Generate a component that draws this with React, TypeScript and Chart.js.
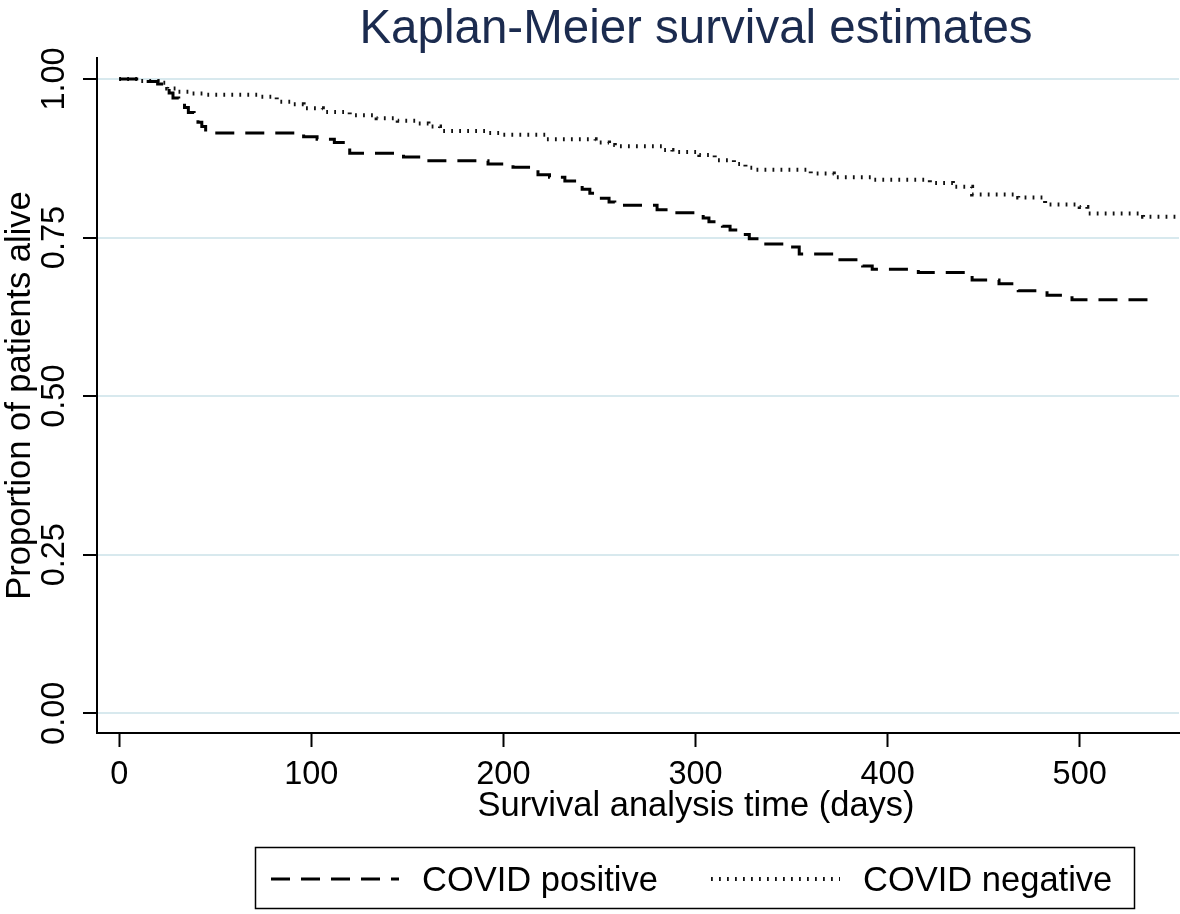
import React, { useEffect, useRef } from 'react';
import { Chart, registerables } from 'chart.js';

Chart.register(...registerables);

// ---------- data ----------
const TITLE = 'Kaplan-Meier survival estimates';
const X_TITLE = 'Survival analysis time (days)';
const Y_TITLE = 'Proportion of patients alive';
const SERIES_LABELS = ['COVID positive', 'COVID negative'];

const X_TICKS = [0, 100, 200, 300, 400, 500];
const Y_TICKS = [0, 0.25, 0.5, 0.75, 1];
const Y_TICK_LABELS = ['0.00', '0.25', '0.50', '0.75', '1.00'];

const POS_DAYS = [0, 11, 20, 23, 26, 28, 31, 34, 36, 39, 41, 43, 45, 96, 103, 112, 120, 148, 160, 192, 205, 218, 224, 232, 241, 245, 251, 255, 258, 280, 287, 304, 307, 314, 318, 324, 328, 332, 348, 354, 374, 387, 392, 416, 444, 458, 468, 483, 496, 537, 538];
const POS_SURV = [1, 0.996, 0.992, 0.985, 0.978, 0.970, 0.962, 0.955, 0.947, 0.940, 0.932, 0.925, 0.915, 0.909, 0.905, 0.900, 0.883, 0.877, 0.871, 0.866, 0.861, 0.849, 0.845, 0.839, 0.826, 0.820, 0.812, 0.806, 0.801, 0.794, 0.789, 0.781, 0.775, 0.768, 0.762, 0.755, 0.748, 0.740, 0.735, 0.724, 0.715, 0.705, 0.700, 0.695, 0.683, 0.677, 0.666, 0.659, 0.652, 0.646, 0.646];

const NEG_DAYS = [0, 11, 20, 25, 30, 37, 45, 72, 82, 90, 96, 106, 120, 134, 145, 155, 161, 167, 191, 198, 222, 248, 255, 258, 283, 288, 302, 310, 320, 326, 330, 360, 372, 392, 422, 434, 444, 468, 482, 500, 504, 533, 551];
const NEG_SURV = [1, 0.997, 0.994, 0.985, 0.980, 0.977, 0.975, 0.972, 0.964, 0.960, 0.954, 0.948, 0.943, 0.938, 0.934, 0.930, 0.925, 0.918, 0.915, 0.912, 0.905, 0.900, 0.896, 0.894, 0.888, 0.885, 0.880, 0.872, 0.866, 0.860, 0.857, 0.851, 0.845, 0.841, 0.836, 0.830, 0.818, 0.813, 0.802, 0.798, 0.788, 0.783, 0.783];

// ---------- style ----------
const FONT = '"Liberation Sans", Arial, sans-serif';
const TITLE_COLOR = '#1b2b4f';
const GRID_COLOR = '#d8e9ee';
const X_MIN = -11.56;
const X_MAX = 551.7;
const Y_MIN = -0.0311;
const Y_MAX = 1.0331;
const POS_DASH = [19, 11];
const NEG_DASH = [1.8, 6.2];

const toPoints = (xs: number[], ys: number[]) => xs.map((x, i) => ({ x, y: ys[i] }));

const overlayPlugin = {
  id: 'kmOverlay',
  afterDraw(chart: any) {
    const ctx = chart.ctx as CanvasRenderingContext2D;
    ctx.save();
    // chart title
    ctx.fillStyle = TITLE_COLOR;
    ctx.font = `47.5px ${FONT}`;
    ctx.textAlign = 'center';
    ctx.textBaseline = 'alphabetic';
    ctx.fillText(TITLE, 696, 43);
    // x axis title
    ctx.fillStyle = '#000';
    ctx.font = `34.5px ${FONT}`;
    ctx.fillText(X_TITLE, 696, 816);
    // legend
    ctx.lineWidth = 1.5;
    ctx.strokeStyle = '#000';
    ctx.setLineDash([]);
    ctx.strokeRect(255.5, 847.5, 879, 61);
    const ds = chart.data.datasets;
    const items = [
      { x0: 271, x1: 399, tx: 422 },
      { x0: 711, x1: 840, tx: 863 },
    ];
    items.forEach((it, i) => {
      const d = ds[i];
      ctx.save();
      ctx.strokeStyle = d.borderColor;
      ctx.lineWidth = d.borderWidth;
      ctx.setLineDash(d.borderDash);
      ctx.beginPath();
      ctx.moveTo(it.x0, 879);
      ctx.lineTo(it.x1, 879);
      ctx.stroke();
      ctx.restore();
      ctx.fillStyle = '#000';
      ctx.textAlign = 'left';
      ctx.font = `34.5px ${FONT}`;
      ctx.fillText(d.label, it.tx, 891);
    });
    ctx.restore();
  },
};

export default function App() {
  const ref = useRef<HTMLCanvasElement>(null);
  useEffect(() => {
    Chart.defaults.font.family = FONT;
    const chart = new Chart(ref.current as HTMLCanvasElement, {
      type: 'line',
      data: {
        datasets: [
          {
            label: SERIES_LABELS[0],
            data: toPoints(POS_DAYS, POS_SURV),
            borderColor: '#000',
            borderWidth: 3,
            borderDash: POS_DASH,
            stepped: 'before',
            pointRadius: 0,
            fill: false,
          },
          {
            label: SERIES_LABELS[1],
            data: toPoints(NEG_DAYS, NEG_SURV),
            borderColor: '#111',
            borderWidth: 4,
            borderDash: NEG_DASH,
            stepped: 'before',
            pointRadius: 0,
            fill: false,
          },
        ],
      },
      options: {
        animation: false,
        responsive: false,
        devicePixelRatio: 1,
        layout: { padding: { left: 0, right: 1, top: 58, bottom: 0 } },
        plugins: {
          legend: { display: false },
          title: { display: false },
          tooltip: { enabled: false },
        },
        scales: {
          x: {
            type: 'linear',
            min: X_MIN,
            max: X_MAX,
            afterBuildTicks: (s: any) => {
              s.ticks = X_TICKS.map((v) => ({ value: v }));
            },
            afterFit: (s: any) => {
              s.height = 181;
            },
            grid: { drawOnChartArea: false, drawTicks: true, tickLength: 14, tickWidth: 2, tickColor: '#000' },
            border: { display: true, color: '#000', width: 2 },
            ticks: {
              font: { size: 32.5, family: FONT },
              color: '#000',
              padding: 9,
              maxRotation: 0,
              autoSkip: false,
              callback: (v: any) => String(v),
            },
          },
          y: {
            type: 'linear',
            min: Y_MIN,
            max: Y_MAX,
            afterBuildTicks: (s: any) => {
              s.ticks = Y_TICKS.map((v) => ({ value: v }));
            },
            afterFit: (s: any) => {
              s.width = 97;
            },
            grid: { color: GRID_COLOR, lineWidth: 2, drawTicks: true, tickLength: 14, tickWidth: 2, tickColor: '#000' },
            border: { display: true, color: '#000', width: 2 },
            ticks: {
              font: { size: 32.5, family: FONT },
              color: '#000',
              minRotation: 90,
              maxRotation: 90,
              crossAlign: 'center',
              padding: -4,
              autoSkip: false,
              callback: (_v: any, i: number) => Y_TICK_LABELS[i],
            },
            title: {
              display: true,
              text: Y_TITLE,
              color: '#000',
              font: { size: 34.5, family: FONT },
              padding: { top: 0, bottom: 0 },
            },
          },
        },
      } as any,
      plugins: [overlayPlugin],
    });
    return () => chart.destroy();
  }, []);

  return (
    <div style={{ position: 'absolute', left: 0, top: 0, width: 1180, height: 914, background: '#fff' }}>
      <canvas ref={ref} width={1180} height={914} style={{ display: 'block', width: 1180, height: 914 }} />
    </div>
  );
}
